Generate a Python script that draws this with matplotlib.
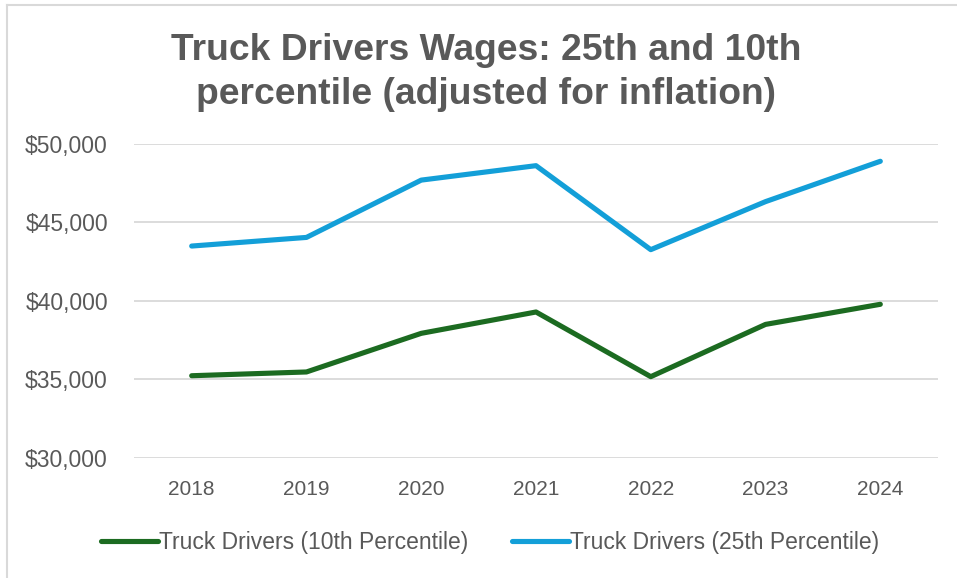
import matplotlib.pyplot as plt
from matplotlib.ticker import FuncFormatter
from matplotlib.lines import Line2D

years = ['2018', '2019', '2020', '2021', '2022', '2023', '2024']
p10 = [35240, 35480, 37940, 39300, 35180, 38510, 39790]
p25 = [43500, 44050, 47700, 48620, 43270, 46330, 48900]

plt.rcParams['font.family'] = ['Liberation Sans', 'DejaVu Sans']
gray = '#595959'
green = '#1c6b21'
blue = '#139fd8'

fig = plt.figure(figsize=(9.57, 5.78), dpi=100)
ax = fig.add_axes([134.3 / 957, 1 - 458 / 578, (937.7 - 134.3) / 957, (458 - 144) / 578])

x = list(range(len(years)))
ax.plot(x, p10, color=green, lw=3.7, solid_capstyle='round', solid_joinstyle='round',
        label='Truck Drivers (10th Percentile)', zorder=3)
ax.plot(x, p25, color=blue, lw=3.7, solid_capstyle='round', solid_joinstyle='round',
        label='Truck Drivers (25th Percentile)', zorder=3)

ax.set_xlim(-0.5, len(years) - 0.5)
ax.set_ylim(30000, 50000)
ax.set_yticks([30000, 35000, 40000, 45000, 50000])
ax.yaxis.set_major_formatter(FuncFormatter(lambda v, p: '${:,.0f}'.format(v)))
ax.set_xticks(x)
ax.set_xticklabels(years)
ax.grid(axis='y', color='#d9d9d9', lw=1.3)
ax.set_axisbelow(True)
for s in ax.spines.values():
    s.set_visible(False)
ax.tick_params(axis='y', length=0, pad=19, labelsize=16.5, labelcolor=gray)
ax.tick_params(axis='x', length=0, pad=16, labelsize=15, labelcolor=gray)

fig.text(486 / 957, 1 - 33 / 578, 'Truck Drivers Wages: 25th and 10th\npercentile (adjusted for inflation)',
         ha='center', va='top', fontsize=26.8, fontweight='bold', color=gray, linespacing=1.35)

# chart border (top and left visible)
fig.add_artist(Line2D([7 / 957, 7 / 957], [0, 1 - 5 / 578], color='#d9d9d9', lw=1.5))
fig.add_artist(Line2D([7 / 957, 1], [1 - 5 / 578, 1 - 5 / 578], color='#d9d9d9', lw=1.5))

leg = fig.legend(loc='center', bbox_to_anchor=(490 / 957, 1 - 543 / 578), ncol=2, frameon=False,
                 prop={'size': 16.5}, labelcolor=gray,
                 handlelength=2.5, handletextpad=0.05, columnspacing=1.9)

fig.savefig('out.png', dpi=100)
